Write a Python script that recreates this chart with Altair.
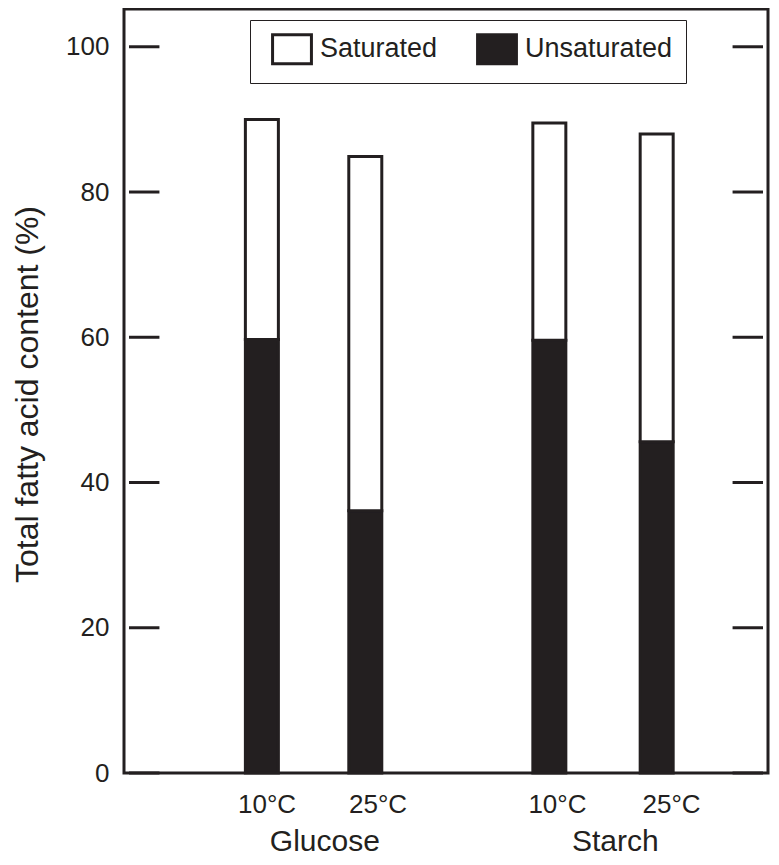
import json
import altair as alt
import pandas as pd

# ---- data ----
conditions = ["Glucose 10°C", "Glucose 25°C", "Starch 10°C", "Starch 25°C"]
bar_x = [2.096, 3.727, 6.630, 8.323]
unsaturated = [59.7, 36.1, 59.6, 45.6]
total = [90.0, 84.9, 89.5, 88.0]

temp_labels = ["10°C", "25°C", "10°C", "25°C"]
temp_label_x = [2.17, 3.92, 6.75, 8.55]

groups = ["Glucose", "Starch"]
group_x = [3.09, 7.67]
group_y = [-10.73, -10.73]

y_ticks = [0, 20, 40, 60, 80, 100]
tick_len = 0.48

INK = "#231f20"
FONT = "Liberation Sans"

rows = []
for c, x, u, t in zip(conditions, bar_x, unsaturated, total):
    rows.append({"cond": c, "x": x, "type": "Unsaturated", "y0": 0.0, "y1": u})
    rows.append({"cond": c, "x": x, "type": "Saturated", "y0": u, "y1": t})
bar_df = pd.DataFrame(rows)

tick_rows = []
for v in y_ticks:
    tick_rows.append({"v": v, "x0": 0.0, "x1": tick_len})
    tick_rows.append({"v": v, "x0": 10.0 - tick_len, "x1": 10.0})
tick_df = pd.DataFrame(tick_rows)

group_df = pd.DataFrame({"g": groups, "gx": group_x, "gy": group_y})

xscale = alt.Scale(domain=[0, 10], nice=False, zero=False)
yscale = alt.Scale(domain=[0, 105.2], nice=False)

label_expr = (
    "indexof(" + json.dumps(temp_label_x) + ", datum.value) >= 0 ? "
    + json.dumps(temp_labels, ensure_ascii=False)
    + "[indexof(" + json.dumps(temp_label_x) + ", datum.value)] : ''"
)

bars = alt.Chart(bar_df).mark_bar(size=33, stroke=INK, strokeWidth=3).encode(
    x=alt.X(
        "x:Q",
        scale=xscale,
        axis=alt.Axis(
            values=temp_label_x,
            labelExpr=label_expr,
            title=None,
            grid=False,
            ticks=False,
            tickSize=0,
            domain=False,
            labelPadding=18,
            labelFontSize=26,
            labelFont=FONT,
            labelColor=INK,
        ),
    ),
    y=alt.Y(
        "y0:Q",
        scale=yscale,
        axis=alt.Axis(
            values=y_ticks,
            title="Total fatty acid content (%)",
            grid=False,
            ticks=False,
            tickSize=0,
            domain=False,
            labelPadding=15,
            labelFontSize=26,
            labelFont=FONT,
            labelColor=INK,
            titleFont=FONT,
            titleFontSize=32,
            titleFontWeight="normal",
            titleColor=INK,
            titleAngle=270,
            titleAlign="center",
            titleBaseline="middle",
            titleX=-97,
            titleY=385,
        ),
    ),
    y2="y1:Q",
    color=alt.Color(
        "type:N",
        scale=alt.Scale(domain=["Saturated", "Unsaturated"], range=["white", INK]),
        legend=alt.Legend(
            title=None,
            orient="none",
            legendX=126,
            legendY=11,
            direction="horizontal",
            strokeColor=INK,
            padding=13,
            symbolType="M-1.34,-1H1.34V1H-1.34Z",
            symbolSize=841,
            symbolOffset=13,
            symbolStrokeColor=INK,
            symbolStrokeWidth=3,
            symbolOpacity=1,
            labelFont=FONT,
            labelFontSize=27,
            labelColor=INK,
            labelOffset=12,
            columnPadding=30,
        ),
    ),
)

ticks = alt.Chart(tick_df).mark_rule(color=INK, strokeWidth=3).encode(
    x=alt.X("x0:Q", scale=xscale),
    x2="x1:Q",
    y=alt.Y("v:Q", scale=yscale),
)

group_text = alt.Chart(group_df).mark_text(
    font=FONT, fontSize=30, color=INK, align="center", baseline="alphabetic"
).encode(
    x=alt.X("gx:Q", scale=xscale),
    y=alt.Y("gy:Q", scale=yscale),
    text="g:N",
)

chart = (
    alt.layer(bars, ticks, group_text)
    .properties(
        width=644,
        height=764,
        autosize=alt.AutoSizeParams(type="none"),
        padding={"left": 116, "top": 1, "right": 2, "bottom": 83},
        background="white",
    )
    .configure_view(stroke=INK, strokeWidth=3)
)

chart.save("out.html", embed_options={"renderer": "svg", "actions": False})
